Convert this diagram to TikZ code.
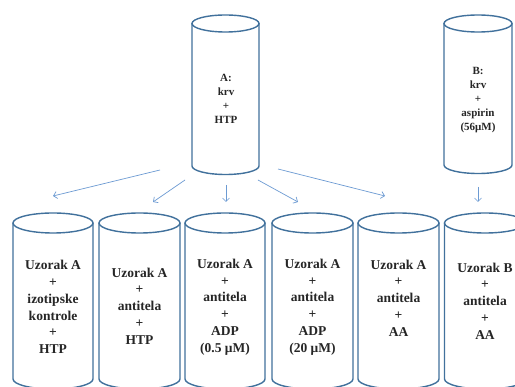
\documentclass[tikz,border=0pt]{standalone}
\usepackage{fontspec}
\setmainfont{Liberation Serif}
\usetikzlibrary{arrows.meta}
\definecolor{tubeblue}{HTML}{41719C}
\definecolor{arrowblue}{HTML}{6D9BD3}
\tikzset{
  tubeline/.style={draw=tubeblue, line width=1.4pt},
  flow/.style={draw=arrowblue, line width=0.7pt, -{Straight Barb[length=3.5pt,width=7pt]}},
  toplabel/.style={align=center, font=\fontsize{11}{14}\selectfont\bfseries, text=black!85, inner sep=0pt},
  lowlabel/.style={align=center, font=\fontsize{13.5}{16.8}\selectfont\bfseries, text=black!85, inner sep=0pt}
}
% #1 centre x, #2 top ellipse y, #3 bottom ellipse y, #4 half width, #5 ellipse half height
\newcommand\tube[5]{%
  \draw[tubeline] (#1-#4,#2) -- (#1-#4,#3) arc[start angle=180,end angle=0,x radius=#4,y radius=#5] -- (#1+#4,#2);
  \draw[tubeline] (#1,#2) ellipse[x radius=#4, y radius=#5];
}
\begin{document}
\begin{tikzpicture}[x=1pt,y=-1pt]
\useasboundingbox (0,0) rectangle (515,387);
\fill[white] (0,0) rectangle (515,387);

% source tubes
\tube{225.5}{23.5}{166}{33.5}{8.5}
\tube{478}{23.5}{165}{34}{8.5}
\node[toplabel] (srcA) at (226,99) {A:\\krv\\+\\HTP};
\node[toplabel] (srcB) at (478,100) {B:\\krv\\+\\aspirin\\(56μM)};

% sample tubes
\tube{53}{223}{379}{40}{10}
\tube{139.5}{223}{379}{40.5}{10}
\tube{225}{223}{379}{40}{10}
\tube{312.5}{223}{379}{40.5}{10}
\tube{398.5}{223}{379}{40.5}{10}
\tube{485}{223}{379}{40.5}{10}

\node[lowlabel] (s1) at (53,307) {Uzorak A\\+\\izotipske\\kontrole\\+\\HTP};
\node[lowlabel] (s2) at (139.5,306) {Uzorak A\\+\\antitela\\+\\HTP};
\node[lowlabel] (s3) at (225,307) {Uzorak A\\+\\antitela\\+\\ADP\\(0.5 μM)};
\node[lowlabel] (s4) at (312.5,307) {Uzorak A\\+\\antitela\\+\\ADP\\(20 μM)};
\node[lowlabel] (s5) at (398.5,298) {Uzorak A\\+\\antitela\\+\\AA};
\node[lowlabel] (s6) at (485,301) {Uzorak B\\+\\antitela\\+\\AA};

% arrow end points
\coordinate (a1s) at (160,170); \coordinate (a1e) at (53,196);
\coordinate (a2s) at (185,180); \coordinate (a2e) at (153,202);
\coordinate (a3s) at (226,185); \coordinate (a3e) at (226,202);
\coordinate (a4s) at (258,180); \coordinate (a4e) at (298,202);
\coordinate (a5s) at (278,169); \coordinate (a5e) at (385,196);
\coordinate (a6s) at (478,187); \coordinate (a6e) at (478,202);

\draw[flow] (a1s) -- (a1e);
\draw[flow] (a2s) -- (a2e);
\draw[flow] (a3s) -- (a3e);
\draw[flow] (a4s) -- (a4e);
\draw[flow] (a5s) -- (a5e);
\draw[flow] (a6s) -- (a6e);
\end{tikzpicture}
\end{document}
